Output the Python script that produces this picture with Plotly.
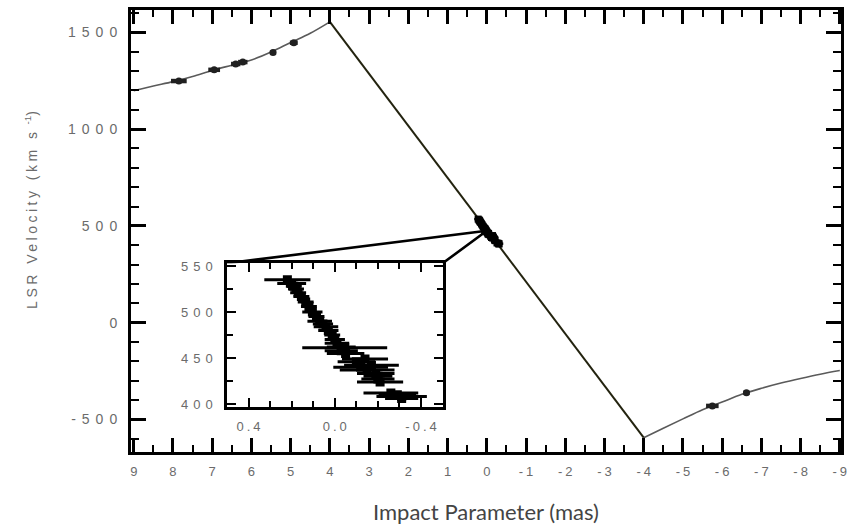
import plotly.graph_objects as go

# Model rotation curve of the maser disk: impact parameter (mas) vs LSR velocity (km/s)
red_b = [9, 8.5, 8, 7.5, 7, 6.5, 6, 5.5, 5, 4.5, 4]
red_v = [1198, 1222, 1245, 1272, 1303, 1330, 1357, 1398, 1447, 1495, 1554]
sys_b = [4, -4]
sys_v = [1554, -594]
blue_b = [-4, -4.5, -5, -5.5, -6, -6.5, -7, -7.5, -8, -8.5, -9]
blue_v = [-594, -545, -497, -450, -410, -370, -339, -312, -288, -266, -247]

# High-velocity maser spots
red_pts_b = [7.85, 6.95, 6.4, 6.22, 5.45, 4.92]
red_pts_v = [1248, 1306, 1336, 1346, 1395, 1446]
red_pts_err = [0.2, 0.15, 0.12, 0.12, 0.08, 0.1]
blue_pts_b = [-5.75, -6.62]
blue_pts_v = [-430, -362]
blue_pts_err = [0.16, 0.08]

# Systemic maser spots (shown enlarged in the inset)
spot_b = [0.22, 0.20, 0.19, 0.18, 0.17, 0.155, 0.135, 0.12, 0.104, 0.085, 0.07,
          0.055, 0.041, 0.03, 0.012, 0.0, -0.01, -0.03, -0.046, -0.03, -0.05,
          -0.14, -0.10, -0.17, -0.12, -0.15, -0.19, -0.20, -0.20, -0.21,
          -0.26, -0.29, -0.31, -0.31]
spot_v = [535, 531, 528, 525, 521, 517, 511, 506, 500, 495, 490,
          487, 484, 480, 475, 470, 466, 462, 461, 458, 455,
          449, 446, 442, 440, 437, 433, 430, 427, 424,
          412, 410, 408, 406]
spot_err = [0.10, 0.06, 0.03, 0.03, 0.03, 0.03, 0.03, 0.03, 0.04, 0.03, 0.05,
            0.04, 0.05, 0.04, 0.03, 0.04, 0.05, 0.06, 0.19, 0.07, 0.08,
            0.10, 0.08, 0.12, 0.12, 0.12, 0.08, 0.06, 0.07, 0.10,
            0.12, 0.08, 0.11, 0.07]

# Axis ticks and labels
main_xticks = list(range(9, -10, -1))
main_xlabels = [str(v) for v in main_xticks]
main_yticks = [-500, 0, 500, 1000, 1500]
main_ylabels = ["-500", "0", "500", "1000", "1500"]
inset_xticks = [0.4, 0.0, -0.4]
inset_xlabels = ["0.4", "0.0", "-0.4"]
inset_yticks = [400, 450, 500, 550]
inset_ylabels = ["400", "450", "500", "550"]

main_xrange = [9.07, -9.03]
main_yrange = [-668, 1615]
inset_xrange = [0.5, -0.5]
inset_yrange = [397, 553]
inset_xdom = [0.1352, 0.4389]
inset_ydom = [0.1025, 0.4269]

TICK_FONT = dict(family="Liberation Sans, Arial, sans-serif", size=13, color="#6b6b6b")


def spaced(s, px=5):
    """Letter-space a label between its characters only (no trailing gap)."""
    if len(s) < 2:
        return s
    return f'<span style="letter-spacing:{px}px">{s[:-1]}</span>{s[-1]}'


def paper_to_main(px, py):
    x = main_xrange[0] + px * (main_xrange[1] - main_xrange[0])
    y = main_yrange[0] + py * (main_yrange[1] - main_yrange[0])
    return x, y


fig = go.Figure()

# Rotation curve
fig.add_trace(go.Scatter(x=red_b, y=red_v, mode="lines", line=dict(color="#5a5a5a", width=1.6, shape="spline"),
                         xaxis="x", yaxis="y", hoverinfo="skip"))
fig.add_trace(go.Scatter(x=blue_b, y=blue_v, mode="lines", line=dict(color="#5a5a5a", width=1.6, shape="spline"),
                         xaxis="x", yaxis="y", hoverinfo="skip"))
fig.add_trace(go.Scatter(x=sys_b, y=sys_v, mode="lines", line=dict(color="#23230f", width=2),
                         xaxis="x", yaxis="y", hoverinfo="skip"))

# High-velocity spots
fig.add_trace(go.Scatter(x=red_pts_b, y=red_pts_v, mode="markers",
                         marker=dict(color="#202020", size=7, symbol="circle"),
                         error_x=dict(type="data", array=red_pts_err, color="#202020", thickness=4.5, width=0),
                         xaxis="x", yaxis="y"))
fig.add_trace(go.Scatter(x=blue_pts_b, y=blue_pts_v, mode="markers",
                         marker=dict(color="#202020", size=7, symbol="circle"),
                         error_x=dict(type="data", array=blue_pts_err, color="#202020", thickness=4.5, width=0),
                         xaxis="x", yaxis="y"))

# Systemic spots on the main panel
fig.add_trace(go.Scatter(x=spot_b, y=spot_v, mode="markers",
                         marker=dict(color="black", size=7, symbol="square"),
                         error_x=dict(type="data", array=spot_err, color="black", thickness=2.5, width=0),
                         xaxis="x", yaxis="y"))

# Lines linking the inset to the systemic feature
cx = sum(inset_xrange) / 2
cy = sum(inset_yrange) / 2
lx, ty = paper_to_main(inset_xdom[0], inset_ydom[1])
rx, _ = paper_to_main(inset_xdom[1], inset_ydom[1])
fig.add_trace(go.Scatter(x=[lx, cx, rx], y=[ty, cy, ty], mode="lines",
                         line=dict(color="black", width=2.6), xaxis="x", yaxis="y", hoverinfo="skip"))

# Inset: systemic spots with position errors
fig.add_trace(go.Scatter(x=spot_b, y=spot_v, mode="markers",
                         marker=dict(color="black", size=9, symbol="square"),
                         error_x=dict(type="data", array=spot_err, color="black", thickness=3, width=1.5),
                         xaxis="x2", yaxis="y2"))

axis_common = dict(showline=True, linecolor="black", mirror="allticks", ticks="inside",
                   showgrid=False, zeroline=False, tickfont=TICK_FONT, tickmode="array",
                   automargin=False, ticklabeloverflow="allow")

fig.update_layout(
    width=847, height=528,
    margin=dict(l=131, r=6, t=10, b=76),
    paper_bgcolor="white", plot_bgcolor="white",
    showlegend=False,
    xaxis=dict(axis_common, range=main_xrange, linewidth=3,
               tickvals=main_xticks, ticktext=[spaced(t, 3) for t in main_xlabels],
               ticklen=14, tickwidth=2.6, tickcolor="black", ticklabelstandoff=5,
               minor=dict(tickmode="linear", tick0=0, dtick=0.5, ticks="inside", ticklen=7,
                          tickwidth=2, tickcolor="black")),
    yaxis=dict(axis_common, range=main_yrange, linewidth=3,
               tickvals=main_yticks, ticktext=[spaced(t, 6) for t in main_ylabels],
               ticklen=15, tickwidth=2.6, tickcolor="black", ticklabelstandoff=8,
               tickfont=dict(TICK_FONT, size=14),
               minor=dict(tickmode="linear", tick0=0, dtick=100, ticks="inside", ticklen=8,
                          tickwidth=2, tickcolor="black")),
    xaxis2=dict(axis_common, range=inset_xrange, domain=inset_xdom, anchor="y2", linewidth=2.5,
                tickvals=inset_xticks, ticktext=[spaced(t, 3) for t in inset_xlabels],
                ticklen=9, tickwidth=2.4, tickcolor="black", ticklabelstandoff=6,
                minor=dict(tickmode="linear", tick0=0, dtick=0.1, ticks="inside", ticklen=6,
                           tickwidth=2, tickcolor="black")),
    yaxis2=dict(axis_common, range=inset_yrange, domain=inset_ydom, anchor="x2", linewidth=2.5,
                tickvals=inset_yticks, ticktext=[spaced(t, 5) for t in inset_ylabels],
                ticklen=9, tickwidth=2.4, tickcolor="black", ticklabelstandoff=9,
                minor=dict(tickmode="linear", tick0=0, dtick=25, ticks="inside", ticklen=6,
                           tickwidth=2, tickcolor="black")),
    annotations=[
        dict(text=spaced("LSR Velocity (km s", 3.5) + '<span style="letter-spacing:3.5px"> </span><sup>-1</sup>)',
             textangle=-90,
             xref="paper", yref="paper", x=-0.141, y=0.5475, xanchor="center", yanchor="middle",
             showarrow=False, font=dict(family="Liberation Sans, Arial, sans-serif", size=14, color="#6b6b6b")),
        dict(text="Impact Parameter (mas)",
             xref="paper", yref="paper", x=0.5, y=-0.1357, xanchor="center", yanchor="middle",
             showarrow=False, font=dict(family="Lato, sans-serif", size=22, color="#444444")),
    ],
)

fig.write_html("out.html")
